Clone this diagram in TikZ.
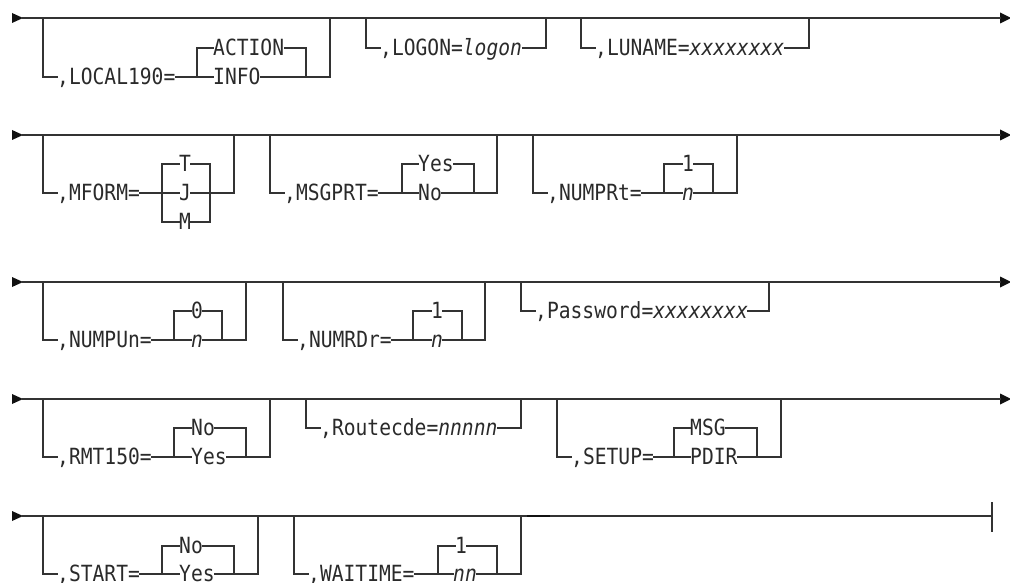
\documentclass[tikz,border=0pt]{standalone}
\usepackage{fontspec}
\newfontfamily\rr[FakeStretch=0.88]{DejaVu Sans Mono}
\definecolor{railc}{HTML}{333333}
\definecolor{textc}{HTML}{2A2A2A}
\definecolor{arrc}{HTML}{111111}
\begin{document}
\begin{tikzpicture}[x=1pt,y=-1pt,
  rail/.style={draw=railc,line width=1.3pt,line cap=rect},
  lbl/.style={font={\rr\fontsize{22.3pt}{26pt}\selectfont},text=textc,inner sep=0pt,
    text height=15.6pt,text depth=0pt,anchor=west},
  ctr/.style={lbl,anchor=center},
  arr/.style={fill=arrc}]
\useasboundingbox (0,0) rectangle (1010,583);

% ---------------- Row 1 ----------------
\coordinate (s1) at (23,18); \coordinate (e1) at (1000,18);
\fill[arr] (12,13) -- (s1) -- (12,23) -- cycle;
\fill[arr] (e1) -- (1000,12.5) -- (1011,18) -- (1000,23.5) -- cycle;
\draw[rail] (s1) -- (e1);
% LOCAL190
\coordinate (a1) at (43,18); \coordinate (a2) at (43,77);
\node[lbl] (local) at (57,77) {,LOCAL190=};
\coordinate (a3) at (197,48); \coordinate (a4) at (197,77);
\node[lbl] (action) at (213,48) {ACTION};
\node[lbl] (info) at (213,77) {INFO};
\coordinate (a5) at (306,48); \coordinate (a6) at (306,77);
\coordinate (a7) at (330,77); \coordinate (a8) at (330,18);
\draw[rail] (a1) -- (a2) -- (local.west);
\draw[rail] (local.east) -- (a4);
\draw[rail] (a3) -- (a4);
\draw[rail] (a3) -- (action.west);
\draw[rail] (action.east) -- (a5) -- (a6);
\draw[rail] (a4) -- (info.west);
\draw[rail] (info.east) -- (a6) -- (a7) -- (a8);
% LOGON
\coordinate (b1) at (366,18); \coordinate (b2) at (366,48);
\node[lbl] (logon) at (380,48) {,LOGON=\textit{logon}};
\coordinate (b3) at (546,48); \coordinate (b4) at (546,18);
\draw[rail] (b1) -- (b2) -- (logon.west);
\draw[rail] (logon.east) -- (b3) -- (b4);
% LUNAME
\coordinate (c1) at (581,18); \coordinate (c2) at (581,48);
\node[lbl] (luname) at (595,48) {,LUNAME=\textit{xxxxxxxx}};
\coordinate (c3) at (809,48); \coordinate (c4) at (809,18);
\draw[rail] (c1) -- (c2) -- (luname.west);
\draw[rail] (luname.east) -- (c3) -- (c4);

% ---------------- Row 2 ----------------
\coordinate (s2) at (23,135); \coordinate (e2) at (1000,135);
\fill[arr] (12,130) -- (s2) -- (12,140) -- cycle;
\fill[arr] (e2) -- (1000,129.5) -- (1011,135) -- (1000,140.5) -- cycle;
\draw[rail] (s2) -- (e2);
% MFORM
\coordinate (d1) at (43,135); \coordinate (d2) at (43,193);
\node[lbl] (mform) at (57,193) {,MFORM=};
\coordinate (d3) at (162,164); \coordinate (d4) at (162,193); \coordinate (d5) at (162,222);
\node[ctr] (mT) at (185,164) {T};
\node[ctr] (mJ) at (185,193) {J};
\node[ctr] (mM) at (185,222) {M};
\coordinate (d6) at (210,164); \coordinate (d7) at (210,193); \coordinate (d8) at (210,222);
\coordinate (d9) at (234,193); \coordinate (d10) at (234,135);
\draw[rail] (d1) -- (d2) -- (mform.west);
\draw[rail] (mform.east) -- (d4);
\draw[rail] (d3) -- (d5);
\draw[rail] (d3) -- (mT.west);
\draw[rail] (mT.east) -- (d6) -- (d8);
\draw[rail] (d4) -- (mJ.west);
\draw[rail] (mJ.east) -- (d7) -- (d9) -- (d10);
\draw[rail] (d5) -- (mM.west);
\draw[rail] (mM.east) -- (d8);
% MSGPRT
\coordinate (f1) at (270,135); \coordinate (f2) at (270,193);
\node[lbl] (msgprt) at (284,193) {,MSGPRT=};
\coordinate (f3) at (402,164); \coordinate (f4) at (402,193);
\node[lbl] (pyes) at (418,164) {Yes};
\node[lbl] (pno) at (418,193) {No};
\coordinate (f5) at (474,164); \coordinate (f6) at (474,193);
\coordinate (f7) at (497,193); \coordinate (f8) at (497,135);
\draw[rail] (f1) -- (f2) -- (msgprt.west);
\draw[rail] (msgprt.east) -- (f4);
\draw[rail] (f3) -- (f4);
\draw[rail] (f3) -- (pyes.west);
\draw[rail] (pyes.east) -- (f5) -- (f6);
\draw[rail] (f4) -- (pno.west);
\draw[rail] (pno.east) -- (f6) -- (f7) -- (f8);
% NUMPRt
\coordinate (g1) at (533,135); \coordinate (g2) at (533,193);
\node[lbl] (numprt) at (547,193) {,NUMPRt=};
\coordinate (g3) at (664,164); \coordinate (g4) at (664,193);
\node[ctr] (prone) at (688,164) {1};
\node[ctr] (prn) at (688,193) {\textit{n}};
\coordinate (g5) at (713,164); \coordinate (g6) at (713,193);
\coordinate (g7) at (737,193); \coordinate (g8) at (737,135);
\draw[rail] (g1) -- (g2) -- (numprt.west);
\draw[rail] (numprt.east) -- (g4);
\draw[rail] (g3) -- (g4);
\draw[rail] (g3) -- (prone.west);
\draw[rail] (prone.east) -- (g5) -- (g6);
\draw[rail] (g4) -- (prn.west);
\draw[rail] (prn.east) -- (g6) -- (g7) -- (g8);

% ---------------- Row 3 ----------------
\coordinate (s3) at (23,282); \coordinate (e3) at (1000,282);
\fill[arr] (12,277) -- (s3) -- (12,287) -- cycle;
\fill[arr] (e3) -- (1000,276.5) -- (1011,282) -- (1000,287.5) -- cycle;
\draw[rail] (s3) -- (e3);
% NUMPUn
\coordinate (h1) at (43,282); \coordinate (h2) at (43,340);
\node[lbl] (numpun) at (57,340) {,NUMPUn=};
\coordinate (h3) at (174,311); \coordinate (h4) at (174,340);
\node[ctr] (puzero) at (197,311) {0};
\node[ctr] (pun) at (197,340) {\textit{n}};
\coordinate (h5) at (222,311); \coordinate (h6) at (222,340);
\coordinate (h7) at (246,340); \coordinate (h8) at (246,282);
\draw[rail] (h1) -- (h2) -- (numpun.west);
\draw[rail] (numpun.east) -- (h4);
\draw[rail] (h3) -- (h4);
\draw[rail] (h3) -- (puzero.west);
\draw[rail] (puzero.east) -- (h5) -- (h6);
\draw[rail] (h4) -- (pun.west);
\draw[rail] (pun.east) -- (h6) -- (h7) -- (h8);
% NUMRDr
\coordinate (i1) at (283,282); \coordinate (i2) at (283,340);
\node[lbl] (numrdr) at (297,340) {,NUMRDr=};
\coordinate (i3) at (413,311); \coordinate (i4) at (413,340);
\node[ctr] (rdone) at (437,311) {1};
\node[ctr] (rdn) at (437,340) {\textit{n}};
\coordinate (i5) at (462,311); \coordinate (i6) at (462,340);
\coordinate (i7) at (485,340); \coordinate (i8) at (485,282);
\draw[rail] (i1) -- (i2) -- (numrdr.west);
\draw[rail] (numrdr.east) -- (i4);
\draw[rail] (i3) -- (i4);
\draw[rail] (i3) -- (rdone.west);
\draw[rail] (rdone.east) -- (i5) -- (i6);
\draw[rail] (i4) -- (rdn.west);
\draw[rail] (rdn.east) -- (i6) -- (i7) -- (i8);
% Password
\coordinate (j1) at (521,282); \coordinate (j2) at (521,311);
\node[lbl] (passwd) at (535,311) {,Password=\textit{xxxxxxxx}};
\coordinate (j3) at (769,311); \coordinate (j4) at (769,282);
\draw[rail] (j1) -- (j2) -- (passwd.west);
\draw[rail] (passwd.east) -- (j3) -- (j4);

% ---------------- Row 4 ----------------
\coordinate (s4) at (23,399); \coordinate (e4) at (1000,399);
\fill[arr] (12,394) -- (s4) -- (12,404) -- cycle;
\fill[arr] (e4) -- (1000,393.5) -- (1011,399) -- (1000,404.5) -- cycle;
\draw[rail] (s4) -- (e4);
% RMT150
\coordinate (k1) at (43,399); \coordinate (k2) at (43,457);
\node[lbl] (rmt) at (57,457) {,RMT150=};
\coordinate (k3) at (174,428); \coordinate (k4) at (174,457);
\node[lbl] (rno) at (191,428) {No};
\node[lbl] (ryes) at (191,457) {Yes};
\coordinate (k5) at (246,428); \coordinate (k6) at (246,457);
\coordinate (k7) at (270,457); \coordinate (k8) at (270,399);
\draw[rail] (k1) -- (k2) -- (rmt.west);
\draw[rail] (rmt.east) -- (k4);
\draw[rail] (k3) -- (k4);
\draw[rail] (k3) -- (rno.west);
\draw[rail] (rno.east) -- (k5) -- (k6);
\draw[rail] (k4) -- (ryes.west);
\draw[rail] (ryes.east) -- (k6) -- (k7) -- (k8);
% Routecde
\coordinate (l1) at (306,399); \coordinate (l2) at (306,428);
\node[lbl] (route) at (320,428) {,Routecde=\textit{nnnnn}};
\coordinate (l3) at (521,428); \coordinate (l4) at (521,399);
\draw[rail] (l1) -- (l2) -- (route.west);
\draw[rail] (route.east) -- (l3) -- (l4);
% SETUP
\coordinate (m1) at (557,399); \coordinate (m2) at (557,457);
\node[lbl] (setup) at (571,457) {,SETUP=};
\coordinate (m3) at (674,428); \coordinate (m4) at (674,457);
\node[lbl] (smsg) at (690,428) {MSG};
\node[lbl] (spdir) at (690,457) {PDIR};
\coordinate (m5) at (757,428); \coordinate (m6) at (757,457);
\coordinate (m7) at (781,457); \coordinate (m8) at (781,399);
\draw[rail] (m1) -- (m2) -- (setup.west);
\draw[rail] (setup.east) -- (m4);
\draw[rail] (m3) -- (m4);
\draw[rail] (m3) -- (smsg.west);
\draw[rail] (smsg.east) -- (m5) -- (m6);
\draw[rail] (m4) -- (spdir.west);
\draw[rail] (spdir.east) -- (m6) -- (m7) -- (m8);

% ---------------- Row 5 ----------------
\coordinate (s5) at (23,516); \coordinate (e5) at (992,516);
\fill[arr] (12,511) -- (s5) -- (12,521) -- cycle;
\draw[rail] (s5) -- (e5);
\coordinate (e5t) at (992,503); \coordinate (e5b) at (992,531);
\draw[rail] (e5t) -- (e5b);
\coordinate (th1) at (527,516); \coordinate (th2) at (550,516);
\draw[draw=arrc,line width=1.7pt] (th1) -- (th2);
% START
\coordinate (n1) at (43,516); \coordinate (n2) at (43,574);
\node[lbl] (start) at (57,574) {,START=};
\coordinate (n3) at (162,546); \coordinate (n4) at (162,574);
\node[lbl] (sno) at (179,546) {No};
\node[lbl] (syes) at (179,574) {Yes};
\coordinate (n5) at (234,546); \coordinate (n6) at (234,574);
\coordinate (n7) at (258,574); \coordinate (n8) at (258,516);
\draw[rail] (n1) -- (n2) -- (start.west);
\draw[rail] (start.east) -- (n4);
\draw[rail] (n3) -- (n4);
\draw[rail] (n3) -- (sno.west);
\draw[rail] (sno.east) -- (n5) -- (n6);
\draw[rail] (n4) -- (syes.west);
\draw[rail] (syes.east) -- (n6) -- (n7) -- (n8);
% WAITIME
\coordinate (o1) at (294,516); \coordinate (o2) at (294,574);
\node[lbl] (wait) at (308,574) {,WAITIME=};
\coordinate (o3) at (438,546); \coordinate (o4) at (438,574);
\node[ctr] (wone) at (461,546) {1};
\node[lbl] (wnn) at (453,574) {\textit{nn}};
\coordinate (o5) at (497,546); \coordinate (o6) at (497,574);
\coordinate (o7) at (521,574); \coordinate (o8) at (521,516);
\draw[rail] (o1) -- (o2) -- (wait.west);
\draw[rail] (wait.east) -- (o4);
\draw[rail] (o3) -- (o4);
\draw[rail] (o3) -- (wone.west);
\draw[rail] (wone.east) -- (o5) -- (o6);
\draw[rail] (o4) -- (wnn.west);
\draw[rail] (wnn.east) -- (o6) -- (o7) -- (o8);
\end{tikzpicture}
\end{document}
